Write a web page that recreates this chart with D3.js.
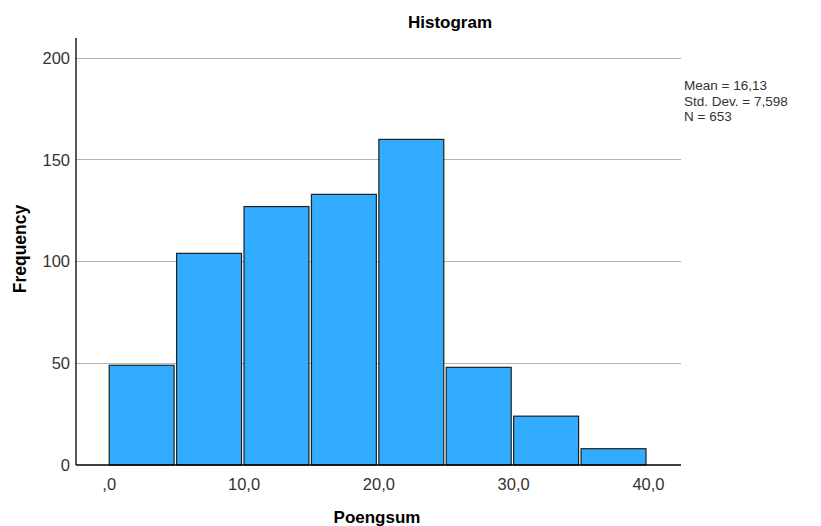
<!DOCTYPE html>
<html><head><meta charset="utf-8">
<script src="https://cdn.jsdelivr.net/npm/d3@7"></script>
<style>body{margin:0;background:#fff}svg{display:block}text{font-family:"Liberation Sans",Arial,sans-serif}</style>
</head><body><svg id="c" width="821" height="526"></svg>
<script>
const binStarts = [0, 5, 10, 15, 20, 25, 30, 35];
const binWidth = 5;
const counts = [49, 104, 127, 133, 160, 48, 24, 8];
const yTicks = [0, 50, 100, 150, 200];
const xTicks = [0, 10, 20, 30, 40];
const xTickLabels = [",0", "10,0", "20,0", "30,0", "40,0"];
const statsLines = ["Mean = 16,13", "Std. Dev. = 7,598", "N = 653"];

const svg = d3.select("#c");
const L = 76, R = 681, T = 58, B = 465;
const x = d3.scaleLinear().domain([0, 40]).range([108.7, 648]);
const y = d3.scaleLinear().domain([0, 200]).range([B, T]);

// gridlines
svg.append("g").selectAll("line").data(yTicks.filter(d => d > 0)).join("line")
  .attr("x1", L).attr("x2", R).attr("y1", d => y(d)).attr("y2", d => y(d))
  .attr("stroke", "#b4b4b4").attr("stroke-width", 1).attr("shape-rendering", "crispEdges");

// bars
svg.append("g").selectAll("rect").data(binStarts).join("rect")
  .attr("x", (d) => x(d) + 0.5)
  .attr("width", d => x(d + binWidth) - x(d) - 2.5)
  .attr("y", (d, i) => y(counts[i]))
  .attr("height", (d, i) => B - y(counts[i]))
  .attr("fill", "#31acff").attr("stroke", "#1f1f1f").attr("stroke-width", 1.2);

// axes
const yAxis = d3.axisLeft(y).tickValues(yTicks).tickSize(0).tickPadding(6);
const gy = svg.append("g").attr("transform", `translate(${L},0)`).call(yAxis);
gy.select(".domain").remove();
gy.selectAll("text").attr("font-size", 16.5).attr("fill", "#333").attr("font-family", "Liberation Sans, Arial, sans-serif");

const xAxis = d3.axisBottom(x).tickValues(xTicks).tickSize(0).tickPadding(13)
  .tickFormat((d, i) => xTickLabels[i]);
const gx = svg.append("g").attr("transform", `translate(0,${B})`).call(xAxis);
gx.select(".domain").remove();
gx.selectAll("text").attr("font-size", 16.5).attr("fill", "#333").attr("font-family", "Liberation Sans, Arial, sans-serif");

svg.append("line").attr("x1", L).attr("x2", L).attr("y1", 38).attr("y2", B)
  .attr("stroke", "#000").attr("stroke-width", 1.3);
svg.append("line").attr("x1", L).attr("x2", R).attr("y1", B).attr("y2", B)
  .attr("stroke", "#000").attr("stroke-width", 1.3);

// titles
svg.append("text").attr("x", 450).attr("y", 28).attr("text-anchor", "middle")
  .attr("font-size", 17).attr("font-weight", "bold").attr("fill", "#000").text("Histogram");
svg.append("text").attr("x", 377).attr("y", 523).attr("text-anchor", "middle")
  .attr("font-size", 17).attr("font-weight", "bold").attr("fill", "#000").text("Poengsum");
svg.append("text").attr("transform", "translate(26,249) rotate(-90)").attr("text-anchor", "middle")
  .attr("font-size", 17.5).attr("font-weight", "bold").attr("fill", "#000").text("Frequency");

// stats
svg.append("g").selectAll("text").data(statsLines).join("text")
  .attr("x", 684).attr("y", (d, i) => 90 + i * 15.5)
  .attr("font-size", 13.5).attr("fill", "#333").text(d => d);
</script></body></html>
